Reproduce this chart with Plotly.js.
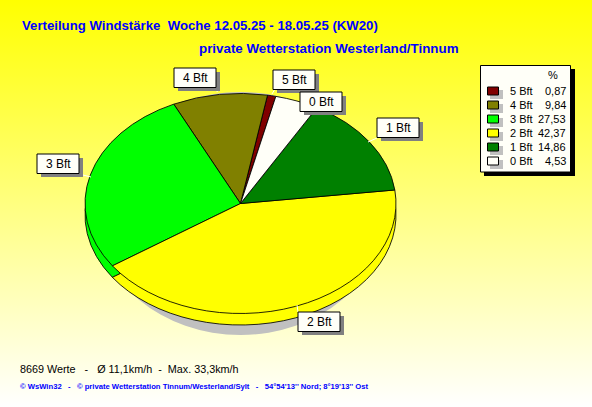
<!DOCTYPE html>
<html><head><meta charset="utf-8">
<script src="https://cdn.plot.ly/plotly-3.0.1.min.js"></script>
<style>html,body{margin:0;padding:0;width:592px;height:407px;overflow:hidden}
#chart{width:592px;height:407px;background:linear-gradient(to bottom,#ffff00 0%,#ffffff 100%)}</style>
</head><body><div id="chart"></div>
<script>
const categories=['5 Bft','4 Bft','3 Bft','2 Bft','1 Bft','0 Bft'];
const percentages=[0.87,9.84,27.53,42.37,14.86,4.53];
const percentLabels=['0,87','9,84','27,53','42,37','14,86','4,53'];
const sliceColors=['#800000','#808000','#00ff00','#ffff00','#008000','#fffff8'];
const titleLine1='Verteilung Windstärke  Woche 12.05.25 - 18.05.25 (KW20)';
const titleLine2='private Wetterstation Westerland/Tinnum';
const footerLine='8669 Werte   -   Ø 11,1km/h  -  Max. 33,3km/h';
const creditLine="© WsWin32   -   © private Wetterstation Tinnum/Westerland/Sylt   -   54°54'13'' Nord; 8°19'13'' Ost";
// label boxes: left, top for each category
const labelBoxes={'5 Bft':[273,70],'4 Bft':[174,68],'3 Bft':[37,154],'2 Bft':[298,312],'1 Bft':[377,118],'0 Bft':[300,92]};
const leaders=[[217,92,218,88],[272,94,275,89],[368,142,377,138],[297,305,298,312],[83,175,91,177]];

const W=592,H=407,CX=240.5,CY=203.5,R=155.5,SQUASH=110/155.5,DEPTH=11.5;
const px=x=>x/W, py=y=>1-y/H;
const FONT='"Liberation Sans",Arial,sans-serif';
const pie=()=>({type:'pie',labels:categories,values:percentages,sort:false,direction:'counterclockwise',rotation:10,
  textinfo:'none',hoverinfo:'skip',showlegend:false,
  marker:{colors:sliceColors,line:{color:'#000',width:1}},
  domain:{x:[px(CX-R),px(CX+R)],y:[py(CY+R),py(CY-R)]}});
const rect=(x0,y0,x1,y1,fill,line,layer)=>({type:'rect',xref:'paper',yref:'paper',x0:px(x0),x1:px(x1),y0:py(y0),y1:py(y1),
  fillcolor:fill,line:line?{color:line,width:1}:{width:0},layer:layer||'above'});
const text=(t,x,y,anchor,size,color,bold)=>({xref:'paper',yref:'paper',x:px(x),y:py(y),xanchor:anchor,yanchor:'middle',showarrow:false,
  text:bold?'<b>'+t+'</b>':t,font:{family:FONT,size:size,color:color},borderpad:0,borderwidth:0});

const shapes=[],annotations=[];
// cast shadow below the pie
shapes.push({type:'circle',xref:'paper',yref:'paper',x0:px(CX-144),x1:px(CX+144),y0:py(335),y1:py(92),fillcolor:'#c0c0c0',line:{width:0},layer:'below'});
// leader lines
leaders.forEach(l=>shapes.push({type:'line',xref:'paper',yref:'paper',x0:px(l[0]),y0:py(l[1]),x1:px(l[2]),y1:py(l[3]),line:{color:'#fffff8',width:1},layer:'above'}));
// label boxes
categories.forEach(c=>{const [x,y]=labelBoxes[c];
  shapes.push(rect(x+4,y+4,x+46,y+23,'#808080'));
  shapes.push(rect(x,y,x+42,y+19.5,'#fffff8','#000'));
  annotations.push(text(c,x+21.5,y+10,'center',12,'#000'));
});
// legend panel
shapes.push(rect(484,69,575,176,'#000'));
shapes.push(rect(480.5,65.5,570.5,172,'#fffff8','#000'));
annotations.push(text('%',553,74.5,'center',11,'#000'));
categories.forEach((c,i)=>{const y=91+i*14;
  shapes.push(rect(490,y-1,503,y+8,'#c0c0c0'));
  shapes.push(rect(487.5,y-4,498.5,y+4,sliceColors[i],'#000'));
  annotations.push(text(c,510,y,'left',11,'#000'));
  annotations.push(text(percentLabels[i],566,y,'right',11,'#000'));
});
annotations.push(text(titleLine1,22,25,'left',13.2,'#0000ff',true));
annotations.push(text(titleLine2,199,49,'left',13.35,'#0000ff',true));
annotations.push(text(footerLine,20,369,'left',10.8,'#000'));
annotations.push(text(creditLine,20,386,'left',7.65,'#0000ff',true));

Plotly.newPlot('chart',[pie(),pie()],{width:W,height:H,margin:{l:0,r:0,t:0,b:0},paper_bgcolor:'rgba(0,0,0,0)',plot_bgcolor:'rgba(0,0,0,0)',
  shapes,annotations,font:{family:FONT}},{displayModeBar:false,staticPlot:true}).then(gd=>{
  // the reference pie is tilted: squash each pie vertically, drop the first as the rim
  gd.querySelectorAll('.pielayer .trace').forEach((g,i)=>{
    const target=CY+(i===0?DEPTH:0);
    g.setAttribute('transform',`translate(0,${target}) scale(1,${SQUASH}) translate(0,${-CY})`);
  });
});
</script></body></html>
